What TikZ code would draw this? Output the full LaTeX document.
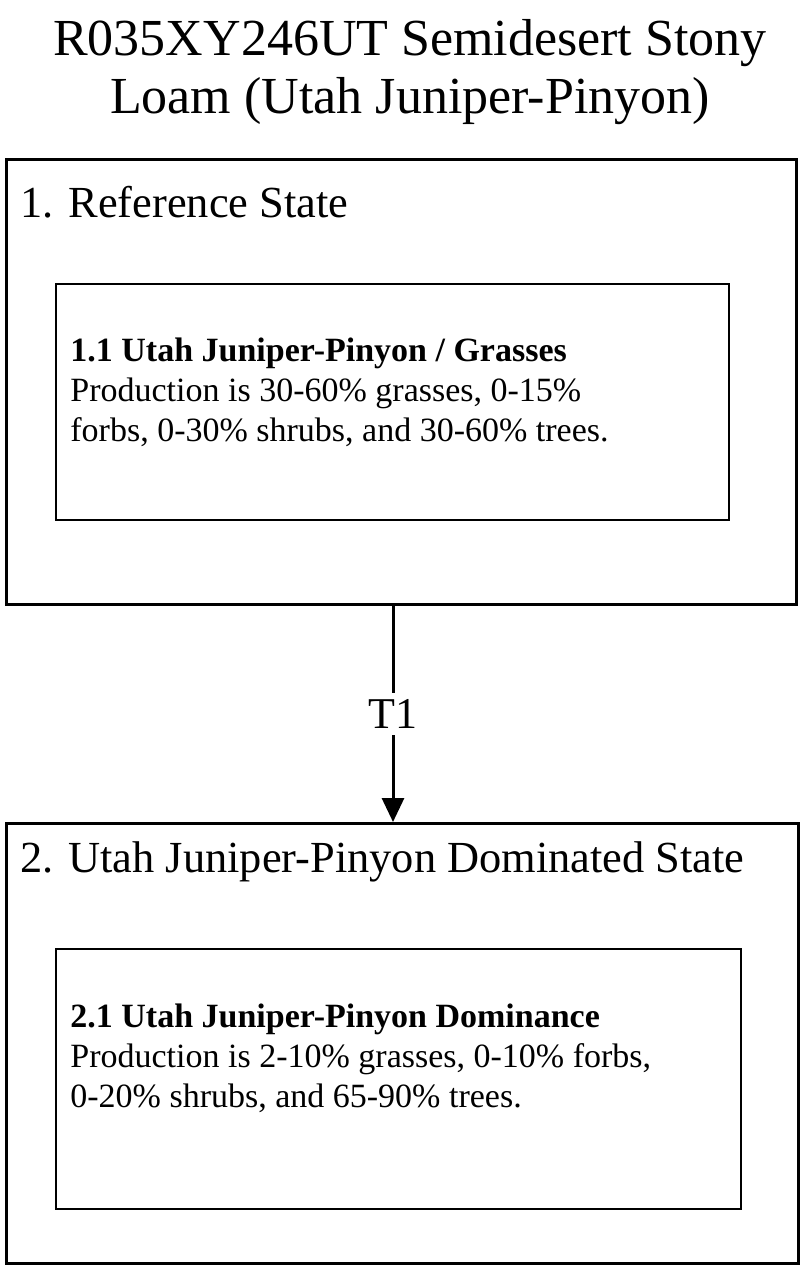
\documentclass[tikz,border=0pt]{standalone}
\usepackage{fontspec}
\setmainfont{Liberation Serif}
\usetikzlibrary{positioning,arrows.meta}
\tikzset{
  statebox/.style={draw, line width=1.5pt, anchor=north west, inner sep=0pt},
  phasebox/.style={draw, line width=1.2pt, anchor=north west, inner sep=0pt},
  statelabel/.style={anchor=west, font=\fontsize{22.2}{26}\selectfont, inner sep=0pt},
  phasetext/.style={anchor=north west, align=left, font=\fontsize{17}{20}\selectfont, inner sep=0pt}
}
\begin{document}
\begin{tikzpicture}[x=0.5pt,y=-0.5pt]
  \useasboundingbox (0,0) rectangle (800,1269);

  % title
  \node[align=center, font=\fontsize{26}{29}\selectfont] (title) at (410,72)
    {R035XY246UT Semidesert Stony\\Loam (Utah Juniper-Pinyon)};

  % state 1
  \node[statebox, minimum width=395pt, minimum height=222.5pt] (s1) at (5,158) {};
  \node[statelabel] (s1lab) at (20,202) {1. Reference State};
  \node[phasebox, minimum width=336.5pt, minimum height=118pt] (p1) at (55,283) {};
  \node[phasetext] (p1txt) at (70,338)
    {\textbf{1.1 Utah Juniper-Pinyon / Grasses}\\
     Production is 30-60\% grasses, 0-15\%\\
     forbs, 0-30\% shrubs, and 30-60\% trees.};

  % state 2
  \node[statebox, minimum width=396pt, minimum height=220pt] (s2) at (5,822) {};
  \node[statelabel] (s2lab) at (20,862) {2. Utah Juniper-Pinyon Dominated State};
  \node[phasebox, minimum width=342.5pt, minimum height=130pt] (p2) at (55,948) {};
  \node[phasetext] (p2txt) at (70,1003)
    {\textbf{2.1 Utah Juniper-Pinyon Dominance}\\
     Production is 2-10\% grasses, 0-10\% forbs,\\
     0-20\% shrubs, and 65-90\% trees.};

  % transition
  \draw[line width=1.5pt, -{Triangle[length=12pt,width=11pt]}] (s1.south -| 393,0) -- (s2.north -| 393,0)
    node[midway, fill=white, font=\fontsize{22}{26}\selectfont] (t1) {T1};
\end{tikzpicture}
\end{document}
